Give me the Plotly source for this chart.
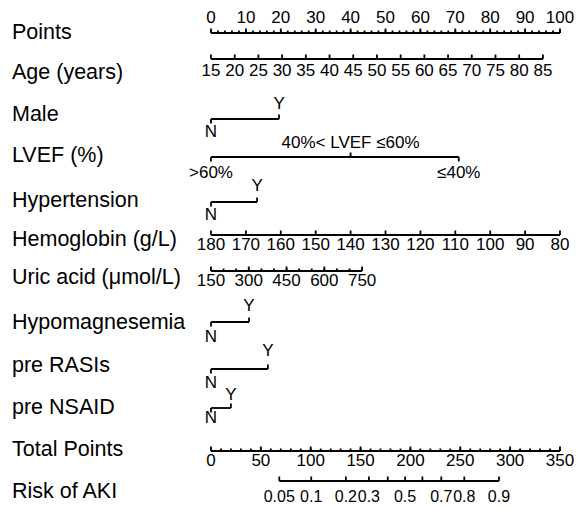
import plotly.graph_objects as go
import math

# ---------------- data ----------------
row_labels = ["Points", "Age (years)", "Male", "LVEF (%)", "Hypertension",
              "Hemoglobin (g/L)", "Uric acid (μmol/L)", "Hypomagnesemia",
              "pre RASIs", "pre NSAID", "Total Points", "Risk of AKI"]

points_major = list(range(0, 101, 10))
points_minor = list(range(0, 101, 2))

age_values = list(range(15, 90, 5))
age_min, age_max, age_points_at_max = 15, 85, 95.1

male_levels = ["N", "Y"]
male_points = [0, 19.5]

lvef_levels = [">60%", "40%< LVEF ≤60%", "≤40%"]
lvef_points = [0, 40, 71]

htn_levels = ["N", "Y"]
htn_points = [0, 13.2]

hb_values = list(range(180, 79, -10))
hb_hi, hb_lo, hb_points_at_lo = 180, 80, 100

ua_labels = [150, 300, 450, 600, 750]
ua_minor = list(range(150, 751, 50))
ua_lo, ua_hi, ua_points_at_hi = 150, 750, 43.3

hypomg_levels = ["N", "Y"]
hypomg_points = [0, 10.9]

rasi_levels = ["N", "Y"]
rasi_points = [0, 16.3]

nsaid_levels = ["N", "Y"]
nsaid_points = [0, 5.7]

total_major = list(range(0, 351, 50))
total_minor = list(range(0, 351, 10))
total_max = 350

risk_ticks = [0.05, 0.1, 0.2, 0.3, 0.4, 0.5, 0.6, 0.7, 0.8, 0.9]
risk_labels = ["0.05", "0.1", "0.2", "0.3", "", "0.5", "", "0.7", "0.8", "0.9"]
risk_intercept, risk_slope = -4.543, 0.02334  # logit(p) = a + b * total points

# ---------------- layout constants ----------------
PAGE_W, PAGE_H = 582, 508
BODY = 8                      # default page margin of the html body
W, H = PAGE_W - BODY, PAGE_H - BODY
X0_PX, PX_PER_PT = 211, 3.49
FONT = "Arial, Liberation Sans, Helvetica, sans-serif"
LAB_SIZE = 21.5
TICK_SIZE = 17
RISK_SIZE = 16
LW = 1.8

row_label_y = [32, 72, 114, 155, 200, 239, 277, 322, 365, 407, 449, 491]

seg_x, seg_y = [], []
texts = []       # (x, y, text)
risk_texts = []  # (x, y, text)


def seg(xa, ya, xb, yb):
    seg_x.extend([xa, xb, None])
    seg_y.extend([ya, yb, None])


def scale_axis(line_y, pts_pos, labels, minor_pts, label_y, major_len=4.5, minor_len=2.5, out=None):
    out = texts if out is None else out
    seg(min(pts_pos + minor_pts), line_y, max(pts_pos + minor_pts), line_y)
    for p in minor_pts:
        seg(p, line_y, p, line_y - minor_len)
    for p, lab in zip(pts_pos, labels):
        seg(p, line_y, p, line_y - major_len)
        if lab != "":
            out.append((p, label_y, lab))


def factor_axis(line_y, pts, labels, sides, off_up, off_dn, tlen=4.5):
    seg(min(pts), line_y, max(pts), line_y)
    for p, lab, s in zip(pts, labels, sides):
        if s == "up":
            seg(p, line_y, p, line_y - tlen)
            texts.append((p, line_y - off_up, lab))
        else:
            seg(p, line_y, p, line_y + tlen)
            texts.append((p, line_y + off_dn, lab))


# Points
scale_axis(33, points_major, [str(v) for v in points_major], points_minor, 19)
# Age
age_pts = [(a - age_min) / (age_max - age_min) * age_points_at_max for a in age_values]
scale_axis(59, age_pts, [str(a) for a in age_values], [], 72)
# Male
factor_axis(119, male_points, male_levels, ["down", "up"], 14, 14)
# LVEF
factor_axis(157, lvef_points, lvef_levels, ["down", "up", "down"], 13, 17)
# Hypertension
factor_axis(202, htn_points, htn_levels, ["down", "up"], 15, 14)
# Hemoglobin
hb_pts = [(hb_hi - v) / (hb_hi - hb_lo) * hb_points_at_lo for v in hb_values]
scale_axis(235, hb_pts, [str(v) for v in hb_values], [], 246)
# Uric acid
ua_f = lambda v: (v - ua_lo) / (ua_hi - ua_lo) * ua_points_at_hi
scale_axis(271, [ua_f(v) for v in ua_labels], [str(v) for v in ua_labels],
           [ua_f(v) for v in ua_minor], 282)
# Hypomagnesemia
factor_axis(322, hypomg_points, hypomg_levels, ["down", "up"], 15, 16)
# pre RASIs
factor_axis(369, rasi_points, rasi_levels, ["down", "up"], 17, 15)
# pre NSAID
factor_axis(408, nsaid_points, nsaid_levels, ["down", "up"], 12, 11)
# Total points
tp_f = lambda t: t / total_max * 100
scale_axis(451, [tp_f(t) for t in total_major], [str(t) for t in total_major],
           [tp_f(t) for t in total_minor], 462)
# Risk
risk_tp = [(math.log(p / (1 - p)) - risk_intercept) / risk_slope for p in risk_ticks]
scale_axis(481, [tp_f(t) for t in risk_tp], risk_labels, [], 498, out=risk_texts)

fig = go.Figure()
fig.add_trace(go.Scatter(x=seg_x, y=seg_y, mode="lines",
                         line=dict(color="black", width=LW), hoverinfo="skip", showlegend=False))
for group, size in ((texts, TICK_SIZE), (risk_texts, RISK_SIZE)):
    fig.add_trace(go.Scatter(x=[t[0] for t in group], y=[t[1] for t in group],
                             text=[t[2] for t in group], mode="text", textposition="middle center",
                             textfont=dict(family=FONT, size=size, color="black"),
                             hoverinfo="skip", showlegend=False))

for lab, y in zip(row_labels, row_label_y):
    fig.add_annotation(x=(10 - BODY) / W, xref="paper", y=y, yref="y", text=lab, showarrow=False,
                       xanchor="left", yanchor="middle",
                       font=dict(family=FONT, size=LAB_SIZE, color="black"))

x_lo = (BODY - X0_PX) / PX_PER_PT
x_hi = (PAGE_W - X0_PX) / PX_PER_PT
fig.update_layout(
    width=W, height=H, margin=dict(l=0, r=0, t=0, b=0),
    paper_bgcolor="white", plot_bgcolor="white",
    xaxis=dict(range=[x_lo, x_hi], visible=False, fixedrange=True),
    yaxis=dict(range=[PAGE_H, BODY], visible=False, fixedrange=True),
    showlegend=False,
)
fig.write_html("out.html")
